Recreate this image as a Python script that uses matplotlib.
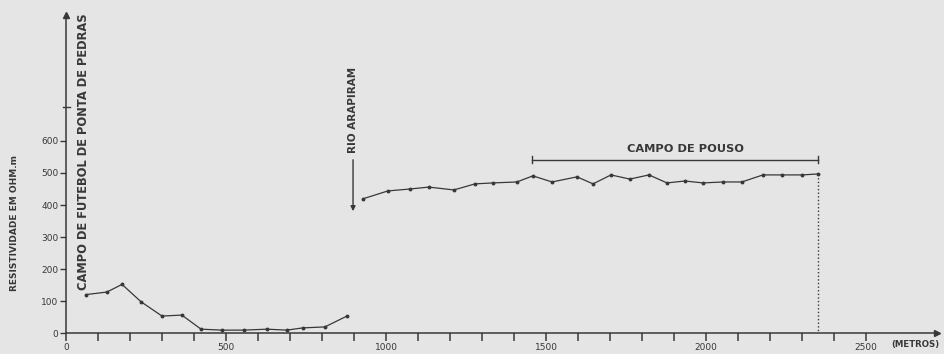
import numpy as np
import matplotlib.pyplot as plt

# distance along profile (m) and resistivity (ohm.m)
dist_a = [62, 128, 175, 234, 300, 362, 422, 488, 556, 628, 690, 740, 809, 878]
res_a = [120, 128, 152, 98, 53, 56, 12, 9, 9, 12, 9, 16, 19, 53]

dist_b = [927, 1006, 1075, 1134, 1212, 1278, 1334, 1409, 1459, 1519, 1597, 1647,
          1703, 1762, 1822, 1878, 1934, 1991, 2053, 2112, 2178, 2237, 2300, 2350]
res_b = [419, 444, 450, 456, 447, 466, 469, 472, 491, 472, 488, 466,
         494, 481, 494, 469, 475, 469, 472, 472, 494, 494, 494, 497]

x_ticks = list(range(0, 2600, 100))
x_labels = ['0', '500', '1000', '1500', '2000', '2500']
y_ticks = [0, 100, 200, 300, 400, 500, 600]

bg = '#e5e5e5'
ink = '#383838'

fig = plt.figure(figsize=(9.45, 3.54), dpi=100, facecolor=bg)
ax = fig.add_axes([0, 0, 1, 1], facecolor=bg)
ax.set_xlim(-206.25, 2746.9)
ax.set_ylim(-65.6, 1040.6)

# axes drawn through the origin, like the original sketch
for s in ['top', 'right']:
    ax.spines[s].set_visible(False)
ax.spines['left'].set_position(('data', 0))
ax.spines['bottom'].set_position(('data', 0))
ax.spines['left'].set_bounds(0, 994)
ax.spines['bottom'].set_bounds(0, 2722)
for s in ['left', 'bottom']:
    ax.spines[s].set_color(ink)
    ax.spines[s].set_linewidth(1.1)

ax.set_xticks(x_ticks)
ax.set_xticklabels([x_labels[t // 500] if t % 500 == 0 else '' for t in x_ticks])
ax.set_yticks(y_ticks)
ax.set_yticklabels([str(t) for t in y_ticks])
ax.tick_params(axis='x', direction='out', length=6, width=1.1, color=ink,
               labelsize=6.5, labelcolor=ink, pad=1.5)
ax.tick_params(axis='y', direction='out', length=4.5, width=1.0, color=ink,
               labelsize=6.5, labelcolor=ink, pad=1)

# arrow heads at axis ends and the small break mark on the y axis
ax.plot([0], [994], marker='^', ms=4, color=ink, clip_on=False)
ax.plot([2722], [0], marker='>', ms=4, color=ink, clip_on=False)
ax.plot([-10, 12], [706, 706], color=ink, lw=1.0)

# profile curves
ax.plot(dist_a, res_a, color=ink, lw=0.9, marker='o', ms=1.8)
ax.plot(dist_b, res_b, color=ink, lw=0.9, marker='o', ms=1.8)

# end of profile, dotted down to the axis
ax.plot([dist_b[-1], dist_b[-1]], [res_b[-1], 0], color=ink, lw=1.0,
        linestyle=(0, (1, 1.6)))

# CAMPO DE POUSO bracket
ax.plot([1456, 2350], [542, 542], color=ink, lw=1.0)
ax.plot([1456, 1456], [530, 554], color=ink, lw=1.0)
ax.plot([2350, 2350], [530, 554], color=ink, lw=1.0)
ax.text(1937, 574, 'CAMPO DE POUSO', ha='center', va='center',
        fontsize=8.2, fontweight='bold', family='DejaVu Sans', color=ink)

# river arrow
ax.annotate('', xy=(897, 372), xytext=(897, 550),
            arrowprops=dict(arrowstyle='-|>', color=ink, lw=1.0,
                            mutation_scale=7))
ax.text(897, 697, 'RIO ARAPIRAM', rotation=90, ha='center', va='center',
        fontsize=7.5, fontweight='bold', family='DejaVu Sans', color=ink)

# football field label
ax.text(55, 568, 'CAMPO DE FUTEBOL DE PONTA DE PEDRAS', rotation=90,
        ha='center', va='center', fontsize=8.3, fontweight='bold',
        family='DejaVu Sans', color=ink)

# axis titles
ax.text(-160, 345, 'RESISTIVIDADE EM OHM.m', rotation=90, ha='center',
        va='center', fontsize=6.5, fontweight='bold', family='DejaVu Sans',
        color=ink)
ax.text(2580, -36, '(METROS)', ha='left', va='center', fontsize=6.2,
        fontweight='bold', family='DejaVu Sans', color=ink)

fig.savefig('out.png', dpi=100, facecolor=bg)
